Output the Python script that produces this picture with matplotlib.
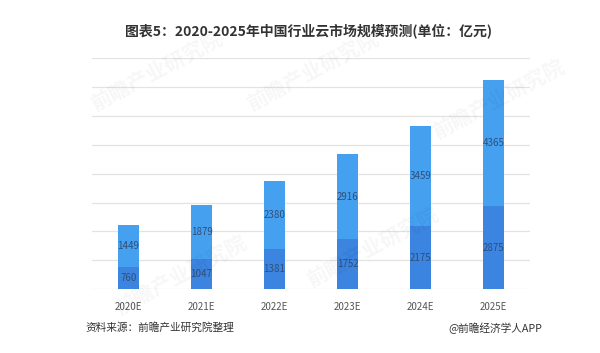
import matplotlib
matplotlib.use("Agg")
import matplotlib.pyplot as plt
import numpy as np

plt.rcParams['font.family'] = ['Noto Sans CJK SC', 'DejaVu Sans']

categories = ["2020E", "2021E", "2022E", "2023E", "2024E", "2025E"]
bottom_vals = [760, 1047, 1381, 1752, 2175, 2875]
top_vals = [1449, 1879, 2380, 2916, 3459, 4365]

title = "图表5：2020-2025年中国行业云市场规模预测(单位：亿元)"
source = "资料来源：前瞻产业研究院整理"
credit = "@前瞻经济学人APP"

dark = "#3b84e0"
light = "#45a0f0"
label_color = "#2f4f7a"

fig = plt.figure(figsize=(6.0, 3.53), dpi=100)
ax = fig.add_axes([0.1533, 0.1805, 0.73, 0.655])

x = np.arange(len(categories))
w = 0.30
ax.bar(x, bottom_vals, width=w, color=dark, zorder=3)
ax.bar(x, top_vals, width=w, bottom=bottom_vals, color=light, zorder=3)

for xi, b, t in zip(x, bottom_vals, top_vals):
    ax.text(xi, b / 2, str(b), ha='center', va='center', fontsize=7,
            color=label_color, zorder=4)
    ax.text(xi, b + t / 2, str(t), ha='center', va='center', fontsize=7,
            color=label_color, zorder=4)

ax.set_xlim(-0.5, len(categories) - 0.5)
ax.set_ylim(0, 8000)
ax.set_yticks(np.arange(0, 8001, 1000))
ax.yaxis.grid(True, color="#e3e3e3", linewidth=0.9, zorder=0)
ax.set_axisbelow(True)
ax.tick_params(axis='y', left=False, labelleft=False)
ax.tick_params(axis='x', bottom=False, labelsize=7, labelcolor="#555555", pad=6)
ax.set_xticks(x)
ax.set_xticklabels(categories)
for s in ax.spines.values():
    s.set_visible(False)

# faint watermarks
for (wx, wy) in [(0.26, 0.80), (0.52, 0.80), (0.30, 0.22), (0.62, 0.30), (0.83, 0.72)]:
    fig.text(wx, wy, "前瞻产业研究院", fontsize=15, color="#000000", alpha=0.035,
             rotation=28, ha='center', va='center', fontweight='bold')

fig.text(0.515, 0.913, title, ha='center', va='center', fontsize=10,
         fontweight='bold', color="#333333")
fig.text(0.142, 0.071, source, ha='left', va='center', fontsize=7.7, color="#333333")
fig.text(0.903, 0.071, credit, ha='right', va='center', fontsize=7.7, color="#333333")

fig.savefig("out.png", dpi=100, facecolor="white")
